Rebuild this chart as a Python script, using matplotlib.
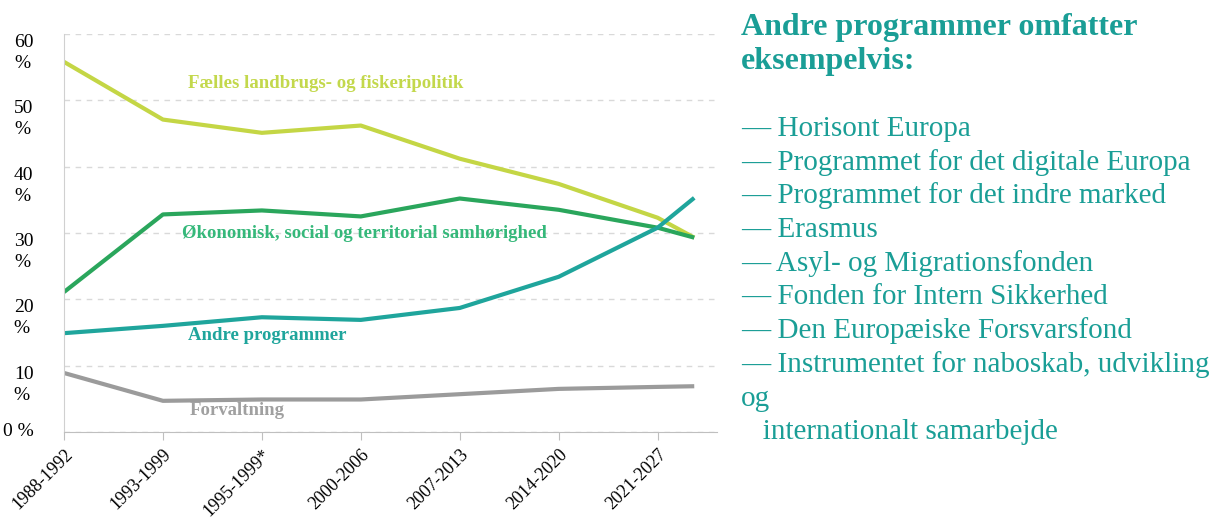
import matplotlib.pyplot as plt

# periods and data (share of EU budget, %)
periods = ['1988-1992', '1993-1999', '1995-1999*', '2000-2006',
           '2007-2013', '2014-2020', '2021-2027']
xpos = [0, 1, 2, 3, 4, 5, 6, 6.37]

landbrug = [55.8, 47.1, 45.1, 46.2, 41.2, 37.4, 32.3, 29.3]
samhoer = [21.1, 32.8, 33.4, 32.5, 35.2, 33.5, 30.8, 29.3]
andre = [14.9, 16.0, 17.3, 16.9, 18.7, 23.4, 30.8, 35.3]
forvalt = [8.9, 4.7, 4.9, 4.9, 5.7, 6.5, 6.8, 6.9]

yticks = [0, 10, 20, 30, 40, 50, 60]
ylabels = ['0 %', '10\n%', '20\n%', '30\n%', '40\n%', '50\n%', '60\n%']

items = ['— Horisont Europa',
         '— Programmet for det digitale Europa',
         '— Programmet for det indre marked',
         '— Erasmus',
         '— Asyl- og Migrationsfonden',
         '— Fonden for Intern Sikkerhed',
         '— Den Europæiske Forsvarsfond',
         '— Instrumentet for naboskab, udvikling',
         'og',
         '   internationalt samarbejde']

plt.rcParams['font.family'] = ['Liberation Serif', 'DejaVu Serif']

fig = plt.figure(figsize=(12.15, 5.21), dpi=100)
ax = fig.add_axes([64 / 1215, 89 / 521, (717 - 64) / 1215, 398 / 521])

c_land = '#c4d645'
c_sam = '#2aa65c'
c_andre = '#1fa59c'
c_forv = '#9b9b9b'

ax.plot(xpos, landbrug, color=c_land, lw=3, solid_capstyle='butt')
ax.plot(xpos, samhoer, color=c_sam, lw=3, solid_capstyle='butt')
ax.plot(xpos, andre, color=c_andre, lw=3, solid_capstyle='butt')
ax.plot(xpos, forvalt, color=c_forv, lw=3, solid_capstyle='butt')

ax.set_xlim(0, 6.6)
ax.set_ylim(0, 60)
ax.set_yticks(yticks)
ax.set_yticklabels(ylabels, fontsize=14, ha='right', va='top',
                   multialignment='left', linespacing=1.3)
ax.get_yticklabels()[0].set_va('center')
ax.tick_params(axis='y', length=0, pad=22)
ax.set_xticks(range(len(periods)))
ax.set_xticklabels(periods, rotation=45, ha='right', rotation_mode='anchor',
                   fontsize=13)
ax.tick_params(axis='x', length=6, color='#bfbfbf', pad=4)

ax.grid(axis='y', color='#d9d9d9', linestyle=(0, (4, 4)), lw=1)
ax.set_axisbelow(True)
for s in ['top', 'right']:
    ax.spines[s].set_visible(False)
ax.spines['left'].set_color('#d0d0d0')
ax.spines['bottom'].set_color('#bfbfbf')

ax.text(1.25, 52.6, 'Fælles landbrugs- og fiskeripolitik', color='#c3d84c',
        fontsize=13.5, fontweight='bold', va='center')
ax.text(1.19, 29.9, 'Økonomisk, social og territorial samhørighed',
        color='#35b87a', fontsize=13.5, fontweight='bold', va='center')
ax.text(1.25, 14.5, 'Andre programmer', color=c_andre, fontsize=13.5,
        fontweight='bold', va='center')
ax.text(1.27, 3.3, 'Forvaltning', color='#a0a0a0', fontsize=13.5,
        fontweight='bold', va='center')

# right-hand text block
teal = '#1a9e96'
fig.text(741 / 1215, 1 - 35 / 521, 'Andre programmer omfatter', color=teal,
         fontsize=23, fontweight='bold', va='baseline')
fig.text(741 / 1215, 1 - 69 / 521, 'eksempelvis:', color=teal,
         fontsize=23, fontweight='bold', va='baseline')
for i, t in enumerate(items):
    fig.text(741 / 1215, 1 - (136 + i * 33.7) / 521, t, color=teal,
             fontsize=21, va='baseline')

plt.savefig('out.png', dpi=100)
